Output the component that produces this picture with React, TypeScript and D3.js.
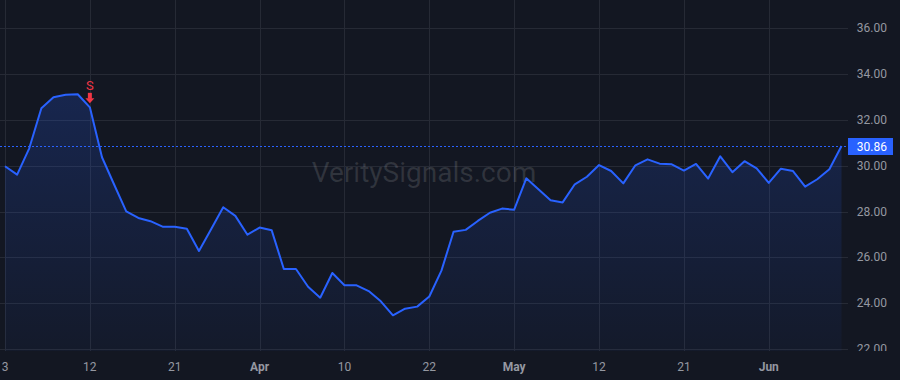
import React, { useLayoutEffect } from "react";
import * as d3 from "d3";

// ---- data ----
const startDate = "2025-03-03";
const endDate = "2025-06-10";
const holidays = ["2025-04-18", "2025-05-26"];
const closeValues = [
  29.98, 29.61, 30.76, 32.51, 32.99, 33.1, 33.12, 32.55, 30.37, 29.18,
  28.01, 27.72, 27.58, 27.34, 27.34, 27.25, 26.28, 27.23, 28.19, 27.81,
  26.99, 27.3, 27.18, 25.49, 25.49, 24.72, 24.24, 25.32, 24.78, 24.78,
  24.53, 24.08, 23.47, 23.76, 23.85, 24.29, 25.42, 27.12, 27.2, 27.59,
  27.95, 28.13, 28.08, 29.45, 28.97, 28.49, 28.4, 29.19, 29.52, 30.03,
  29.77, 29.23, 30.02, 30.28, 30.09, 30.06, 29.79, 30.08, 29.44, 30.41,
  29.72, 30.2, 29.89, 29.25, 29.87, 29.77, 29.09, 29.41, 29.85, 30.86,
];
const tickDates = [
  "2025-03-03", "2025-03-12", "2025-03-21", "2025-04-01", "2025-04-10",
  "2025-04-22", "2025-05-01", "2025-05-12", "2025-05-21", "2025-06-02",
];
const tickLabels = ["3", "12", "21", "Apr", "10", "22", "May", "12", "21", "Jun"];
const monthTicks = ["Apr", "May", "Jun"];
const priceTicks = [22, 24, 26, 28, 30, 32, 34, 36];
const signalDates = ["2025-03-12"];
const signalLabels = ["S"];
const watermark = "VeritySignals.com";

// ---- layout ----
const W = 900;
const H = 380;
const plotW = 848;
const paneBottom = 351;
const FONT = "Roboto, 'Liberation Sans', Arial, sans-serif";
const BG = "#131722";
const GRID = "#262a35";
const TEXT = "#9598a1";
const BLUE = "#2962ff";
const RED = "#f23645";

const fmtDay = d3.timeFormat("%Y-%m-%d");
const parse = d3.timeParse("%Y-%m-%d");
const tradingDays = d3
  .timeDay.range(parse(startDate)!, d3.timeDay.offset(parse(endDate)!, 1))
  .filter((d) => d.getDay() !== 0 && d.getDay() !== 6 && !holidays.includes(fmtDay(d)))
  .map(fmtDay);

const data = tradingDays.map((d, i) => ({ date: d, i, v: closeValues[i] }));

export default function App() {
  useLayoutEffect(() => {
    document.body.style.margin = "0";
    document.body.style.background = BG;
  }, []);

  const x = d3.scaleLinear().domain([0, closeValues.length - 1]).range([5, 841.5]);
  const y = d3.scaleLinear().domain([22, 36]).range([349, 28.3]);

  const line = d3
    .line<{ i: number; v: number }>()
    .x((d) => x(d.i))
    .y((d) => y(d.v));
  const area = d3
    .area<{ i: number; v: number }>()
    .x((d) => x(d.i))
    .y0(paneBottom)
    .y1((d) => y(d.v));

  const last = closeValues[closeValues.length - 1];
  const maxV = d3.max(closeValues)!;

  return (
    <svg
      width={W}
      height={H}
      style={{ position: "fixed", left: 0, top: 0, display: "block", background: BG }}
      fontFamily={FONT}
    >
      <defs>
        <clipPath id="plotClip">
          <rect x={0} y={0} width={plotW} height={paneBottom} />
        </clipPath>
        <clipPath id="axisClip">
          <rect x={plotW} y={0} width={W - plotW} height={paneBottom} />
        </clipPath>
        <linearGradient id="areaGrad" gradientUnits="userSpaceOnUse" x1={0} x2={0} y1={y(maxV)} y2={paneBottom}>
          <stop offset="0" stopColor={BLUE} stopOpacity={0.2} />
          <stop offset="1" stopColor={BLUE} stopOpacity={0.04} />
        </linearGradient>
      </defs>
      <rect x={0} y={0} width={W} height={H} fill={BG} />

      {/* grid */}
      <g>
        {priceTicks.map((t) => (
          <line key={"h" + t} x1={0} x2={plotW} y1={Math.round(y(t)) + 0.5} y2={Math.round(y(t)) + 0.5} stroke={GRID} strokeWidth={1} />
        ))}
        {tickDates.map((d) => {
          const xi = Math.round(x(tradingDays.indexOf(d))) + 0.5;
          return <line key={"v" + d} x1={xi} x2={xi} y1={0} y2={paneBottom} stroke={GRID} strokeWidth={1} />;
        })}
      </g>

      {/* watermark */}
      <text x={plotW / 2} y={182} textAnchor="middle" fontSize={28} fill="rgba(255,255,255,0.13)">
        {watermark}
      </text>

      {/* series */}
      <g clipPath="url(#plotClip)">
        <path d={area(data)!} fill="url(#areaGrad)" />
        <path d={line(data)!} fill="none" stroke={BLUE} strokeWidth={2} strokeLinejoin="round" />
      </g>

      {/* last price line */}
      <line x1={0} x2={plotW} y1={Math.round(y(last)) + 0.5} y2={Math.round(y(last)) + 0.5} stroke={BLUE} strokeWidth={1} strokeDasharray="2 2" />

      {/* signal markers */}
      {signalDates.map((d, k) => {
        const i = tradingDays.indexOf(d);
        const cx = x(i);
        const tip = y(closeValues[i]) - 4;
        return (
          <g key={d}>
            <rect x={cx - 2} y={tip - 10.5} width={4} height={6} fill={RED} />
            <path d={`M${cx - 4.5},${tip - 5} L${cx + 4.5},${tip - 5} L${cx},${tip} Z`} fill={RED} />
            <text x={cx} y={tip - 13.5} textAnchor="middle" fontSize={13} fill={RED}>
              {signalLabels[k]}
            </text>
          </g>
        );
      })}

      {/* right price axis */}
      <g clipPath="url(#axisClip)">
        {priceTicks.map((t) => (
          <text key={"p" + t} x={887} y={y(t)} textAnchor="end" dominantBaseline="central" fontSize={12} fill={TEXT}>
            {t.toFixed(2)}
          </text>
        ))}
      </g>
      <rect x={plotW} y={Math.round(y(last)) - 8} width={45} height={17} fill={BLUE} />
      <text x={887} y={Math.round(y(last)) + 0.5} textAnchor="end" dominantBaseline="central" fontSize={12} fill="#ffffff">
        {last.toFixed(2)}
      </text>

      {/* time axis */}
      {tickDates.map((d, k) => {
        const xi = x(tradingDays.indexOf(d));
        const isMonth = monthTicks.includes(tickLabels[k]);
        return (
          <text key={"t" + d} x={xi} y={367} textAnchor="middle" dominantBaseline="central" fontSize={12} fontWeight={isMonth ? 700 : 400} fill={TEXT}>
            {tickLabels[k]}
          </text>
        );
      })}
    </svg>
  );
}
